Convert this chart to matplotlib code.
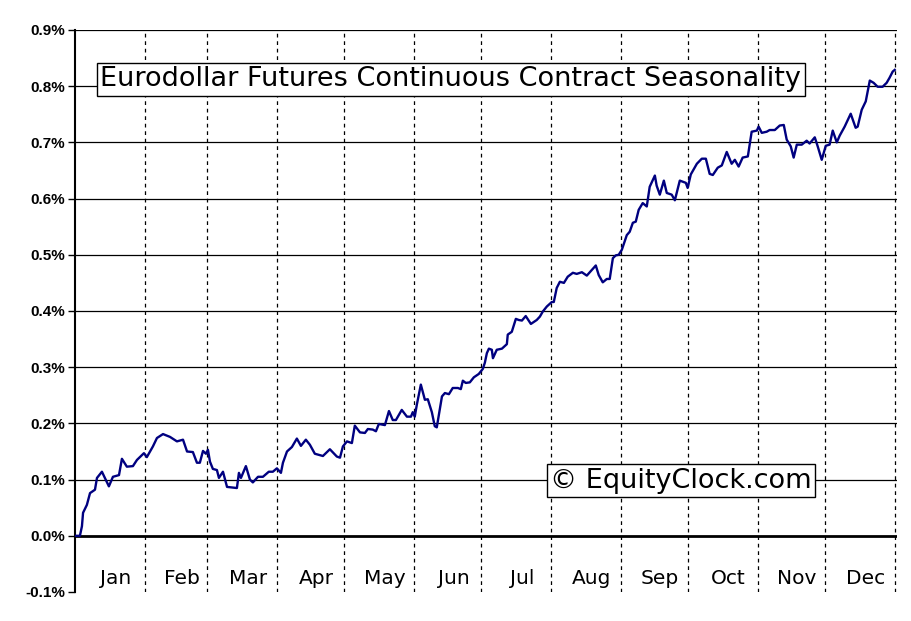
import matplotlib
matplotlib.use("Agg")
import matplotlib.pyplot as plt
from matplotlib.ticker import FuncFormatter

# day of year vs. seasonal return (%)
days = [0, 2.2, 3.1, 3.6, 5.3, 6.7, 8.9, 9.8, 12.0, 15.1, 16.9, 19.6, 20.9, 23.1, 25.8,
        27.6, 30.7, 32.0, 34.7, 36.5, 39.2, 42.3, 45.4, 48.1, 49.9, 52.5, 54.3, 55.6,
        57.0, 58.3, 59.2, 60.1, 61.4, 63.2, 64.1, 65.9, 67.7, 72.1, 73.0, 73.9, 76.1,
        77.9, 79.2, 81.5, 83.7, 86.3, 88.1, 89.9, 91.7, 92.6, 94.4, 96.6, 98.8, 100.6,
        102.8, 104.6, 106.8, 110.4, 113.5, 116.6, 118.0, 119.3, 121.1, 123.3, 124.6,
        126.9, 129.1, 130.4, 132.6, 134.0, 135.3, 138.0, 139.8, 141.5, 142.9, 145.5,
        147.8, 149.6, 150.4, 151.3, 152.2, 154.0, 155.8, 157.1, 158.9, 160.2, 161.1,
        162.0, 163.4, 164.7, 166.5, 168.2, 170.5, 171.8, 172.7, 174.0, 175.8, 177.6,
        179.8, 181.6, 182.5, 183.4, 184.3, 185.6, 186.1, 187.8, 190.1, 192.3, 192.7,
        194.5, 196.3, 197.6, 199.0, 200.7, 203.0, 205.6, 207.0, 208.3, 210.1, 212.3,
        213.2, 214.5, 215.9, 217.7, 219.4, 221.7, 223.4, 225.7, 227.9, 230.1, 231.9,
        233.2, 235.0, 236.8, 238.1, 239.5, 240.8, 242.1, 243.5, 245.7, 247.0, 248.4,
        249.7, 251.0, 252.8, 254.6, 255.9, 258.2, 259.0, 260.4, 262.2, 263.5, 265.7,
        267.1, 269.3, 272.0, 272.8, 274.2, 276.9, 279.1, 280.9, 282.6, 284.0, 286.2,
        288.0, 290.2, 292.4, 293.8, 295.5, 297.3, 299.6, 301.3, 303.6, 304.4, 305.8,
        308.0, 309.3, 311.6, 313.8, 315.6, 316.9, 318.7, 320.0, 321.4, 323.6, 325.8,
        327.1, 329.4, 330.7, 332.5, 334.3, 336.0, 337.4, 339.2, 340.5, 342.7, 345.4,
        347.6, 348.5, 350.3, 352.1, 353.9, 355.6, 357.4, 359.6, 361.4, 362.7, 364.1, 365.0]

values = [0, 0, 0.017, 0.041, 0.055, 0.076, 0.082, 0.103, 0.114, 0.088, 0.105, 0.108,
          0.137, 0.123, 0.124, 0.135, 0.147, 0.140, 0.159, 0.174, 0.181, 0.176, 0.168,
          0.171, 0.150, 0.149, 0.130, 0.130, 0.151, 0.146, 0.153, 0.132, 0.119, 0.117,
          0.103, 0.114, 0.087, 0.085, 0.112, 0.103, 0.124, 0.100, 0.095, 0.105, 0.105,
          0.114, 0.114, 0.120, 0.112, 0.130, 0.150, 0.158, 0.173, 0.160, 0.171, 0.162,
          0.146, 0.142, 0.154, 0.141, 0.139, 0.159, 0.168, 0.165, 0.196, 0.184, 0.183,
          0.190, 0.189, 0.186, 0.199, 0.197, 0.222, 0.206, 0.206, 0.224, 0.212, 0.212,
          0.220, 0.212, 0.233, 0.269, 0.242, 0.243, 0.220, 0.195, 0.193, 0.215, 0.248,
          0.254, 0.252, 0.263, 0.263, 0.261, 0.276, 0.272, 0.273, 0.282, 0.288, 0.297,
          0.308, 0.325, 0.333, 0.331, 0.316, 0.331, 0.333, 0.341, 0.358, 0.363, 0.386,
          0.384, 0.383, 0.391, 0.377, 0.384, 0.390, 0.399, 0.408, 0.416, 0.416, 0.441,
          0.452, 0.450, 0.461, 0.468, 0.466, 0.469, 0.463, 0.473, 0.481, 0.464, 0.451,
          0.457, 0.457, 0.494, 0.499, 0.500, 0.509, 0.535, 0.541, 0.557, 0.559, 0.580,
          0.592, 0.586, 0.621, 0.641, 0.623, 0.607, 0.632, 0.610, 0.607, 0.597, 0.632,
          0.628, 0.619, 0.643, 0.662, 0.671, 0.671, 0.644, 0.642, 0.655, 0.659, 0.683,
          0.662, 0.669, 0.657, 0.673, 0.675, 0.719, 0.721, 0.728, 0.717, 0.719, 0.722,
          0.722, 0.730, 0.731, 0.705, 0.693, 0.673, 0.696, 0.696, 0.703, 0.698, 0.709,
          0.693, 0.669, 0.694, 0.696, 0.721, 0.700, 0.712, 0.728, 0.751, 0.726, 0.728,
          0.758, 0.773, 0.810, 0.806, 0.799, 0.799, 0.806, 0.815, 0.826, 0.829]

months = ["Jan", "Feb", "Mar", "Apr", "May", "Jun",
          "Jul", "Aug", "Sep", "Oct", "Nov", "Dec"]
month_starts = [0, 31, 59, 90, 120, 151, 181, 212, 243, 273, 304, 334, 365]

fig = plt.figure(figsize=(9.11, 6.21), dpi=100)
ax = fig.add_axes([0.0823, 0.0467, 0.9023, 0.905])

ax.set_xlim(0, 366)
ax.set_ylim(-0.1, 0.9)

# horizontal grid
for yv in [0.1 * i for i in range(1, 10)]:
    ax.axhline(yv, color="black", lw=0.9, zorder=1)
ax.axhline(0, color="black", lw=2, zorder=3)

# month separators
for d in month_starts[1:]:
    ax.axvline(d, color="black", lw=0.9, ls=(0, (3, 3)), zorder=1)

ax.plot(days, values, color="#000080", lw=1.7, zorder=4)

for i, m in enumerate(months):
    mid = (month_starts[i] + month_starts[i + 1]) / 2 + 2.5
    ax.text(mid, -0.076, m, ha="center", va="center", fontsize=14.5,
            family="DejaVu Sans")

ax.set_yticks([0.1 * i for i in range(-1, 10)])
ax.yaxis.set_major_formatter(FuncFormatter(lambda v, p: f"{v:.1f}%"))
ax.set_xticks([])
for lbl in ax.get_yticklabels():
    lbl.set_fontweight("bold")
    lbl.set_fontfamily("Liberation Sans")
    lbl.set_fontsize(11)
ax.tick_params(axis="y", length=5, width=1, color="black", pad=2)

for s in ["top", "right", "bottom"]:
    ax.spines[s].set_visible(False)
ax.spines["left"].set_linewidth(1.5)

box = dict(boxstyle="square,pad=0.13", facecolor="white", edgecolor="black", lw=1)
ax.text(0.031, 0.912, "Eurodollar Futures Continuous Contract Seasonality",
        transform=ax.transAxes, ha="left", va="center", fontsize=19.5,
        family="DejaVu Sans", bbox=box, zorder=5)
ax.text(0.578, 0.198, "\u00a9 EquityClock.com", transform=ax.transAxes,
        ha="left", va="center", fontsize=19.5, family="DejaVu Sans",
        bbox=box, zorder=5)

fig.savefig("out.png", dpi=100)
